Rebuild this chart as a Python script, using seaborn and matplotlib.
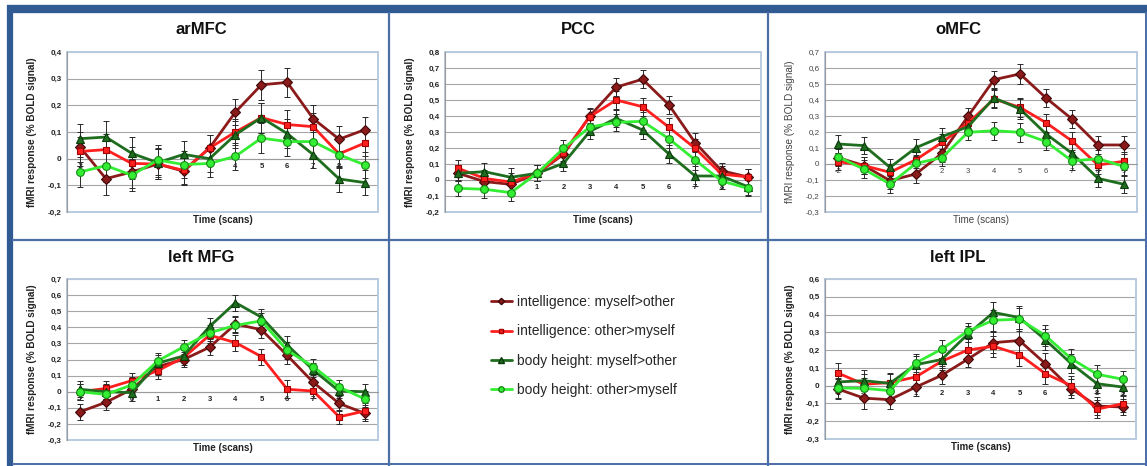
import numpy as np
import matplotlib
matplotlib.use("Agg")
import matplotlib.pyplot as plt
from matplotlib.lines import Line2D
from matplotlib.patches import Rectangle
from matplotlib.ticker import FuncFormatter, MultipleLocator
import seaborn as sns

# ---------------- data ----------------
time = [-2, -1, 0, 1, 2, 3, 4, 5, 6, 7, 8, 9]
series_labels = ["intelligence: myself>other", "intelligence: other>myself",
                 "body height: myself>other", "body height: other>myself"]

# arMFC
armfc_int_self = [0.044, -0.075, -0.05, -0.02, -0.047, 0.04, 0.175, 0.277, 0.286, 0.15, 0.073, 0.109]
armfc_int_other = [0.027, 0.034, -0.018, -0.02, -0.044, 0.04, 0.10, 0.154, 0.128, 0.12, 0.018, 0.059]
armfc_bh_self = [0.075, 0.081, 0.02, -0.015, 0.016, 0.0, 0.09, 0.154, 0.094, 0.015, -0.076, -0.09]
armfc_bh_other = [-0.05, -0.026, -0.062, -0.005, -0.022, -0.018, 0.009, 0.077, 0.064, 0.064, 0.015, -0.024]
armfc_err = [0.055, 0.06, 0.06, 0.055, 0.05, 0.05, 0.05, 0.056, 0.053, 0.05, 0.05, 0.048]

# PCC
pcc_int_self = [0.042, -0.01, -0.027, 0.042, 0.16, 0.40, 0.58, 0.63, 0.47, 0.233, 0.058, 0.019]
pcc_int_other = [0.073, 0.01, -0.013, 0.042, 0.169, 0.396, 0.50, 0.458, 0.33, 0.198, 0.037, 0.019]
pcc_bh_self = [0.042, 0.052, 0.017, 0.042, 0.104, 0.304, 0.385, 0.313, 0.163, 0.025, 0.025, -0.042]
pcc_bh_other = [-0.052, -0.058, -0.079, 0.042, 0.198, 0.331, 0.36, 0.367, 0.258, 0.125, -0.006, -0.052]
pcc_err = [0.05, 0.055, 0.055, 0.05, 0.05, 0.05, 0.055, 0.055, 0.055, 0.06, 0.05, 0.05]

# oMFC
omfc_int_self = [0.04, -0.01, -0.104, -0.062, 0.067, 0.298, 0.527, 0.563, 0.413, 0.281, 0.119, 0.119]
omfc_int_other = [0.015, -0.01, -0.052, 0.027, 0.135, 0.256, 0.406, 0.354, 0.258, 0.144, -0.006, 0.017]
omfc_bh_self = [0.125, 0.115, -0.021, 0.102, 0.171, 0.233, 0.413, 0.344, 0.188, 0.067, -0.09, -0.127]
omfc_bh_other = [0.046, -0.033, -0.125, 0.004, 0.04, 0.198, 0.208, 0.198, 0.14, 0.019, 0.033, -0.015]
omfc_err = [0.055, 0.055, 0.055, 0.055, 0.055, 0.05, 0.055, 0.06, 0.055, 0.055, 0.055, 0.055]

# left MFG
mfg_int_self = [-0.125, -0.066, 0.015, 0.156, 0.20, 0.276, 0.42, 0.385, 0.225, 0.058, -0.073, -0.135]
mfg_int_other = [0.0, 0.02, 0.069, 0.131, 0.212, 0.351, 0.305, 0.218, 0.015, 0.004, -0.156, -0.12]
mfg_bh_self = [0.015, 0.0, -0.006, 0.177, 0.222, 0.405, 0.553, 0.463, 0.29, 0.135, 0.004, 0.0]
mfg_bh_other = [0.0, -0.017, 0.042, 0.191, 0.279, 0.366, 0.412, 0.44, 0.256, 0.156, 0.029, -0.046]
mfg_err = [0.05, 0.045, 0.05, 0.05, 0.045, 0.05, 0.05, 0.05, 0.055, 0.045, 0.045, 0.05]

# left IPL
ipl_int_self = [-0.019, -0.07, -0.079, -0.008, 0.058, 0.148, 0.242, 0.254, 0.124, -0.017, -0.115, -0.12]
ipl_int_other = [0.071, 0.008, 0.017, 0.049, 0.137, 0.20, 0.222, 0.175, 0.068, 0.0, -0.132, -0.101]
ipl_bh_self = [0.021, 0.028, 0.013, 0.118, 0.147, 0.288, 0.412, 0.383, 0.258, 0.124, 0.011, -0.008]
ipl_bh_other = [-0.013, -0.015, -0.028, 0.128, 0.205, 0.306, 0.368, 0.374, 0.282, 0.152, 0.064, 0.036]
ipl_err = [0.055, 0.06, 0.055, 0.05, 0.05, 0.045, 0.06, 0.065, 0.06, 0.055, 0.05, 0.045]

panel_titles = ["arMFC", "PCC", "oMFC", "left MFG", "left IPL"]
panel_ylims = [(-0.2, 0.4), (-0.2, 0.8), (-0.3, 0.7), (-0.3, 0.7), (-0.3, 0.6)]

# ---------------- styling ----------------
sns.set_theme(style="white")
plt.rcParams["font.family"] = ["Liberation Sans", "DejaVu Sans"]

W, H = 1147, 466
fig = plt.figure(figsize=(W / 100, H / 100), dpi=100)
fig.patch.set_facecolor("white")

colors = ["#8B1A1A", "#FF1F1F", "#1F6E1F", "#33EE33"]
edges = ["#3f0808", "#A00000", "#0b3a0b", "#168A16"]
markers = ["D", "s", "^", "o"]
msizes = [4.6, 5.0, 5.6, 5.6]

def px_axes(l, t, r, b):
    return [l / W, 1 - b / H, (r - l) / W, (b - t) / H]

panels = [
    dict(data=[armfc_int_self, armfc_int_other, armfc_bh_self, armfc_bh_other], err=armfc_err,
         box=(67, 52, 378, 212), title_xy=(201, 29), bold=True),
    dict(data=[pcc_int_self, pcc_int_other, pcc_bh_self, pcc_bh_other], err=pcc_err,
         box=(445, 52, 761, 212), title_xy=(578, 29), bold=True),
    dict(data=[omfc_int_self, omfc_int_other, omfc_bh_self, omfc_bh_other], err=omfc_err,
         box=(825, 52, 1137, 212), title_xy=(958, 29), bold=False),
    dict(data=[mfg_int_self, mfg_int_other, mfg_bh_self, mfg_bh_other], err=mfg_err,
         box=(67, 279, 378, 440), title_xy=(201, 257), bold=True),
    dict(data=[ipl_int_self, ipl_int_other, ipl_bh_self, ipl_bh_other], err=ipl_err,
         box=(825, 279, 1136, 439), title_xy=(958, 257), bold=True),
]

fmt = FuncFormatter(lambda v, p: "0" if abs(v) < 1e-9 else ("%.1f" % v).replace(".", ","))

handles = []
for i, p in enumerate(panels):
    ax = fig.add_axes(px_axes(*p["box"]))
    ax.set_facecolor("white")
    ylo, yhi = panel_ylims[i]
    ax.set_ylim(ylo, yhi)
    ax.set_xlim(-2.5, 9.5)
    ax.yaxis.set_major_locator(MultipleLocator(0.1))
    ax.yaxis.set_major_formatter(fmt)
    ax.grid(axis="y", color="#A6A6A6", linewidth=0.8, zorder=0)
    ax.grid(axis="x", visible=False)
    ax.set_axisbelow(True)
    for s in ["top", "right"]:
        ax.spines[s].set_visible(False)
    ax.spines["left"].set_color("#9A9A9A")
    ax.spines["left"].set_linewidth(0.8)
    ax.spines["bottom"].set_position(("data", 0))
    ax.spines["bottom"].set_color("#9A9A9A")
    ax.spines["bottom"].set_linewidth(0.8)
    ax.add_patch(Rectangle((0, 0), 1, 1, transform=ax.transAxes, fill=False,
                           edgecolor="#B9CBE0", linewidth=1.4, zorder=1, clip_on=False))
    weight = "bold" if p["bold"] else "normal"
    tcol = "#222222" if p["bold"] else "#444444"
    ax.set_xticks(time)
    ax.set_xticklabels([str(t) for t in time], fontsize=5.5, fontweight=weight, color=tcol)
    ax.tick_params(axis="x", length=0, pad=3)
    ax.tick_params(axis="y", length=2, width=0.6, color="#9A9A9A", pad=2, labelsize=5.8, labelcolor=tcol)
    for lab in ax.get_yticklabels():
        lab.set_fontweight(weight)

    for k in range(4):
        ax.errorbar(time, p["data"][k], yerr=p["err"], fmt="none", ecolor="#2a2a2a",
                    elinewidth=0.7, capsize=2.2, capthick=0.7, zorder=3)
        sns.lineplot(x=time, y=p["data"][k], ax=ax, color=colors[k], linewidth=2.0,
                     marker=markers[k], markersize=msizes[k], markeredgecolor=edges[k],
                     markeredgewidth=0.8, label=series_labels[k], legend=False, zorder=4)
    if i == 0:
        handles = [Line2D([], [], color=colors[k], linewidth=2.0, marker=markers[k],
                          markersize=msizes[k] * 0.7, markeredgecolor=edges[k])
                   for k in range(4)]

    ax.set_xlabel("")
    ax.set_ylabel("")
    l, t, r, b = p["box"]
    fig.text(p["title_xy"][0] / W, 1 - p["title_xy"][1] / H, panel_titles[i],
             ha="center", va="center", fontsize=12, fontweight="bold", color="#111111")
    fig.text((l - 35) / W, 1 - ((t + b) / 2) / H, "fMRI response (% BOLD signal)",
             rotation=90, ha="center", va="center", fontsize=7.2, fontweight=weight, color=tcol)
    fig.text(((l + r) / 2) / W, 1 - (b + 8) / H, "Time (scans)",
             ha="center", va="center", fontsize=7, fontweight=weight, color=tcol)

fig.legend(handles, series_labels, loc="center", bbox_to_anchor=(584 / W, 1 - 346 / H),
           frameon=False, fontsize=10, handlelength=1.5, labelspacing=1.1,
           handletextpad=0.4, borderaxespad=0)

# ---------------- panel frame ----------------
thick = "#2F5B92"
thin = "#4A6FA5"
def hline(y, x0, x1, lw, c):
    fig.add_artist(Line2D([x0 / W, x1 / W], [1 - y / H, 1 - y / H], color=c, linewidth=lw,
                          transform=fig.transFigure, solid_capstyle="butt"))
def vline(x, y0, y1, lw, c):
    fig.add_artist(Line2D([x / W, x / W], [1 - y0 / H, 1 - y1 / H], color=c, linewidth=lw,
                          transform=fig.transFigure, solid_capstyle="butt"))

hline(9, 7, W, 6, thick)
vline(10, 5, H, 4.5, thick)
hline(240, 12, W, 1.6, thin)
hline(464, 12, W, 1.4, thin)
vline(389, 12, H, 1.6, thin)
vline(768, 12, H, 1.6, thin)
vline(1145.5, 12, H, 1.4, thin)

fig.savefig("out.png", dpi=100, facecolor="white")
